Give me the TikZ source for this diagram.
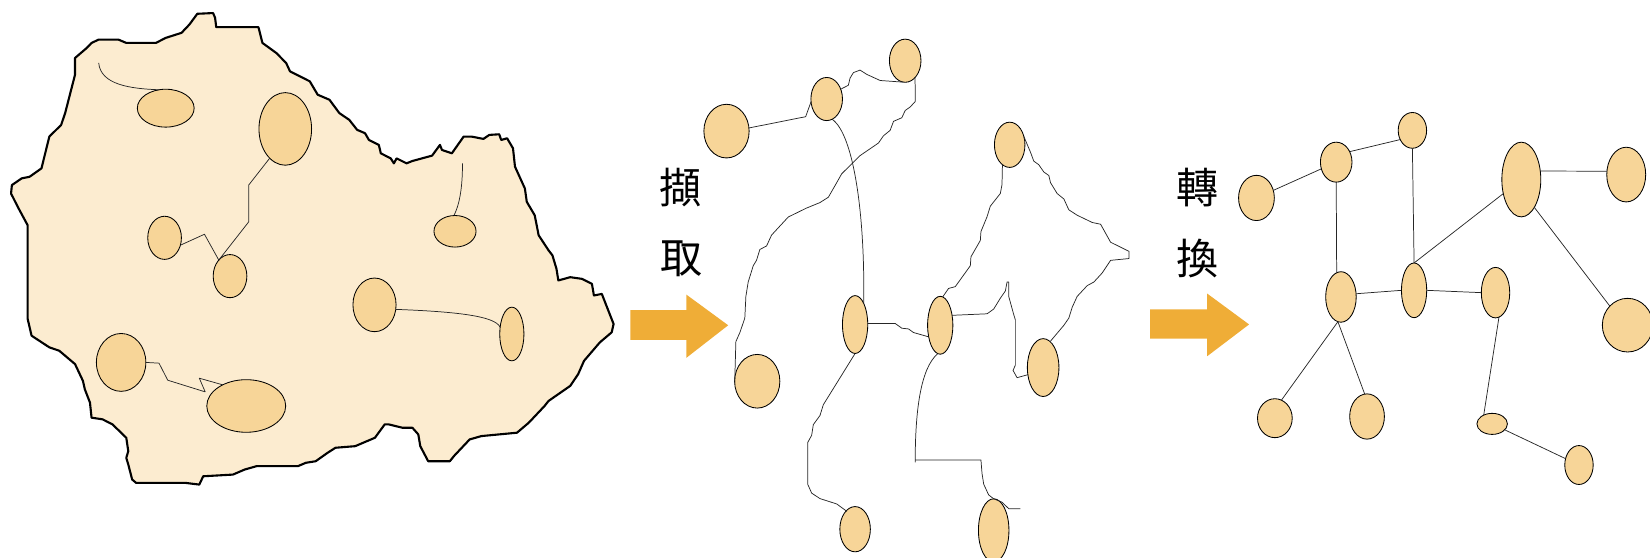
\documentclass[tikz,border=0pt]{standalone}
\usepackage{fontspec}
\newfontfamily\cjk{Noto Sans CJK TC}
\usetikzlibrary{shapes.geometric}
\definecolor{blobfill}{RGB}{252,236,208}
\definecolor{nodefill}{RGB}{247,213,152}
\definecolor{arrowc}{RGB}{239,173,55}
\tikzset{
 el/.style={ellipse, draw=black, fill=nodefill, line width=0.8pt, inner sep=0pt, outer sep=0pt},
 wire/.style={draw=black!85, line width=0.7pt, line join=round},
 bigarrow/.style={fill=arrowc, draw=none},
 lbl/.style={font=\cjk\fontsize{40}{40}\selectfont, inner sep=0pt}
}
\newcommand{\Ell}[5]{\node[el, minimum width=#4pt, minimum height=#5pt] (#1) at (#2,#3) {};}
\begin{document}
\begin{tikzpicture}[x=1pt,y=-1pt]
\useasboundingbox (0,0) rectangle (1568,530);
% ---------------- blob ----------------
\draw[fill=blobfill, line width=2pt, line join=round]
(187.5,13.1)--(202.5,12.4)--(204.4,16.9)--(205.5,25.8)--(245.6,25.8)--(249.4,40.8)--(262.5,50.3)--(271.9,59.8)--(275.6,67.8)--(294.4,77.3)--(301.9,90)--(313.1,94.8)--(322.5,107.5)--(331.9,113.9)--(339.4,123.4)--(346.9,126.6)--(350.6,133)--(360,137.7)--(361.9,145.7)--(371.3,150.5)--(374.3,155.2)--(376.9,150.5)--(386.3,155.2)--(391.9,153)--(410.6,147.9)--(418.1,137.7)--(420,142.5)--(429.4,145.7)--(440.6,129.8)--(448.1,129.8)--(459.4,132)--(465,128.2)--(474.4,127.6)--(476.3,133)--(481.9,131.4)--(487.5,140.9)--(489.4,158.4)--(498.8,179.1)--(500.6,191.8)--(508.1,204.5)--(511.9,223.6)--(521.3,237.9)--(525,242.7)--(528.8,255.4)--(530.6,266.5)--(541.9,263.4)--(553.1,265)--(562.5,269.7)--(564.4,280.8)--(571.9,279.3)--(583.1,307.9)--(581.3,315.8)--(570,325.4)--(555,342.9)--(549.4,355.6)--(541.9,366.7)--(521.3,381)--(517.5,385.8)--(502.5,401.7)--(491.3,411.2)--(457.5,414.4)--(446.3,417.6)--(431.3,433.5)--(427.5,438.3)--(406.9,438.3)--(399.4,424)--(397.5,412.8)--(391.9,406.5)--(382.5,406.5)--(369.4,403.3)--(365.6,403.3)--(356.3,416)--(337.5,424)--(318.8,425.5)--(311.3,430.3)--(300,438.3)--(290.6,439.8)--(283.1,443)--(243.8,443)--(232.5,446.2)--(221.3,451)--(193.1,452.6)--(189.4,460.5)--(176.3,458.9)--(129.4,458.9)--(125.6,455.7)--(121.9,441.4)--(120,435.1)--(121.9,428.7)--(120,416)--(106.9,403.3)--(97.5,398.5)--(87,396.9)--(85.5,382.6)--(80.6,369.9)--(78.8,361.9)--(71.3,346)--(56.3,333.3)--(46.9,330.1)--(30,319)--(26.3,303.1)--(26.3,214.1)--(16.9,196.6)--(10.5,183.9)--(11.3,175.9)--(20.6,169.5)--(28.1,168)--(39.4,160)--(46.9,129.8)--(58.1,118.7)--(61.9,107.5)--(71.3,71)--(71.3,55.1)--(76.9,50.3)--(82.5,45.5)--(87,40.8)--(93.8,37.6)--(112.5,37.6)--(120,40.8)--(148.1,40.8)--(157.5,36)--(172.5,31.2)--(180,23.3)--cycle;
% ---------------- left ellipses ----------------
\Ell{L1}{157.5}{102.8}{54}{36}
\Ell{L2}{271.1}{122.5}{50}{69}
\Ell{L3}{156.4}{226}{32}{41}
\Ell{L4}{218.6}{262.4}{32}{41}
\Ell{L5}{432.4}{219.8}{40}{30}
\Ell{L6}{355.9}{289.7}{41}{51}
\Ell{L7}{486.4}{317.4}{23}{51}
\Ell{L8}{115.1}{344.4}{47}{55}
\Ell{L9}{234}{385.8}{75}{50}
\coordinate (la) at (93.8,59.8);
\coordinate (lb) at (439.5,155.2);
\draw[wire] (la) .. controls (95.6,80.5) and (123.8,84.3) .. (L1.110);
\draw[wire] (L2.242) -- (236.3,175.9) -- (236.3,210.9) -- (L4.125);
\draw[wire] (L3.-25) -- (194.3,222.6) -- (L4.125);
\draw[wire] (L5.94) .. controls (438,191.8) and (439.5,172.7) .. (lb);
\draw[wire] (L6.-12) .. controls (431.3,296.1) and (470.6,300) .. (L7.150);
\draw[wire] (L8.east) -- (151.1,345.1) -- (159.4,361.3) -- (195,372.4) -- (189.4,359.4) -- (L9.138);
% ---------------- arrows and labels ----------------
\fill[bigarrow] (599,294.7) -- (652.3,294.7) -- (652.3,280) -- (692,309.1) -- (652.3,340) -- (652.3,322.9) -- (599,322.9) -- cycle;
\fill[bigarrow] (1093,294) -- (1147.2,294) -- (1147.2,279) -- (1187,308.3) -- (1147.2,338.5) -- (1147.2,321.7) -- (1093,321.7) -- cycle;
\node[lbl] (t1) at (647,178) {擷};
\node[lbl] (t2) at (648,246) {取};
\node[lbl] (t3) at (1138,178) {轉};
\node[lbl] (t4) at (1138,245.5) {換};
% ---------------- middle ellipses ----------------
\Ell{A}{690.4}{124.6}{43}{51}
\Ell{B}{785.6}{94.1}{30}{41}
\Ell{C}{860.2}{57.7}{30}{41}
\Ell{D}{959.5}{137.6}{29}{43}
\Ell{E}{812.6}{308.4}{24}{55}
\Ell{F}{893.5}{309.1}{24}{55}
\Ell{G}{719.6}{362.3}{43}{51}
\Ell{H}{991.3}{349.3}{30}{55}
\Ell{I}{812.6}{502.9}{29}{43}
\Ell{J}{944.3}{504}{29}{60}
\coordinate (ma) at (869.7,439.5);
\coordinate (mb) at (869.7,437.1);
\coordinate (mc) at (969.7,483.4);
\draw[wire] (A.8) -- (765.6,110.9) -- (B.190);
\draw[wire] (B.35) -- (806.2,81) -- (807.8,74.2) -- (811,69) -- (817.3,66.6) -- (823.7,70.7) -- (836.4,76.5) -- (C.-95);
\draw[wire] (C.-60) -- (869.7,82.8) -- (869.7,96.5) -- (865,101.6) -- (860.2,105) -- (857,111.9) -- (849.1,115.3) -- (845.9,123.9) -- (839.5,129.1) -- (834.8,135.9) -- (817.3,147.9) -- (799.9,165.1) -- (795.1,173.6) -- (787.2,187.4) -- (779.2,192.5) -- (766.5,197.7) -- (749.1,206.2) -- (744.3,211.4) -- (733.2,223.4) -- (728.5,233.7) -- (722.1,237.1) -- (718.9,247.4) -- (715.8,252.5) -- (711,268) -- (708.8,281.7) -- (707.8,302.3) -- (703.1,316) -- (699.3,324.6) -- (G.185);
\draw[wire] (B.-75) .. controls (811,127.3) and (822.1,202.8) .. (E.68);
\draw[wire] (E.5) -- (833.2,307.4) -- (850.7,307.4) -- (857,311.9) -- (863.4,312.6) -- (868.1,316) -- (F.225);
\draw[wire] (E.south) -- (782.4,384.6) -- (779.2,394.9) -- (772.9,403.5) -- (771.3,413.7) -- (767.5,420.6) -- (767.5,460) -- (771.3,468.6) -- (779.2,473.8) -- (795.1,478.9) -- (804.6,485.8) -- (I.115);
\draw[wire] (F.85) -- (901.4,274.1) -- (907.8,272.4) -- (922.1,252.5) -- (922.7,244) -- (931.6,228.5) -- (932.2,220) -- (937.9,206.2) -- (941.1,195.9) -- (950.6,183.9) -- (952.2,175.4) -- (D.-110);
\draw[wire] (D.30) -- (979.2,144.5) -- (982.4,153.1) -- (987.1,156.5) -- (991.9,163.4) -- (996.7,166.8) -- (998.3,173.6) -- (1004.6,183.9) -- (1011,189.1) -- (1015.7,199.4) -- (1023.6,204.5) -- (1037.9,211.4) -- (1045.9,213.1) -- (1055.4,230.2) -- (1072.8,238.8) -- (1072.8,245.7) -- (1055.4,247.4) -- (1047.4,259.4) -- (1039.5,268) -- (1033.2,271.4) -- (1023.6,281.7) -- (1018.9,292) -- (1015.7,302.3) -- (1011,309.1) -- (H.75);
\draw[wire] (F.40) -- (938,298.2) -- (944.3,293.7) -- (950.6,283.4) -- (955.4,276.5) -- (957,268) -- (958.6,268) -- (958.6,281.7) -- (963.3,298.8) -- (964.9,304) -- (964.9,346.9) -- (962.7,352) -- (966.5,358.9) -- (H.205);
\draw[wire] (F.-95) .. controls (874.5,350.3) and (869.7,391.5) .. (ma);
\draw[wire] (mb) -- (932.2,437.1) -- (933.2,449.8) -- (934.8,460.1) -- (939.5,470.3) -- (J.north);
\draw[wire] (J.north) -- (952.2,477.2) -- (958.6,483.4) -- (mc);
% ---------------- right ellipses ----------------
\Ell{R1}{1194}{188.1}{34}{43}
\Ell{R2}{1269.8}{154.1}{30}{38}
\Ell{R3}{1342.2}{123.9}{27}{34}
\Ell{R4}{1445.7}{170.6}{37}{71}
\Ell{R5}{1545.4}{165.9}{37}{52}
\Ell{R6}{1274.3}{282.2}{29}{48}
\Ell{R7}{1343.8}{275.9}{24}{52}
\Ell{R8}{1421.2}{278.1}{27}{48}
\Ell{R9}{1546.7}{309}{48}{51}
\Ell{R10}{1211.5}{397.4}{33}{37}
\Ell{R11}{1299.1}{395.8}{33}{43}
\Ell{R12}{1418}{402.8}{29}{20}
\Ell{R13}{1500.5}{441.9}{27}{37}
\draw[wire] (R1) -- (R2);
\draw[wire] (R2.38) -- (R3.217);
\draw[wire] (R2.south) -- (R6.100);
\draw[wire] (R3.south) -- (R7.north);
\draw[wire] (R6.12) -- (R7.west);
\draw[wire] (R7.east) -- (R8.west);
\draw[wire] (R7.north) -- (R4.218);
\draw[wire] (R4.24) -- (R5.170);
\draw[wire] (R4.-65) -- (R9.133);
\draw[wire] (R6.-97) -- (R10.70);
\draw[wire] (R6.-97) -- (R11.96);
\draw[wire] (R8.-82) -- (R12.134);
\draw[wire] (R12) -- (R13);
\end{tikzpicture}
\end{document}
